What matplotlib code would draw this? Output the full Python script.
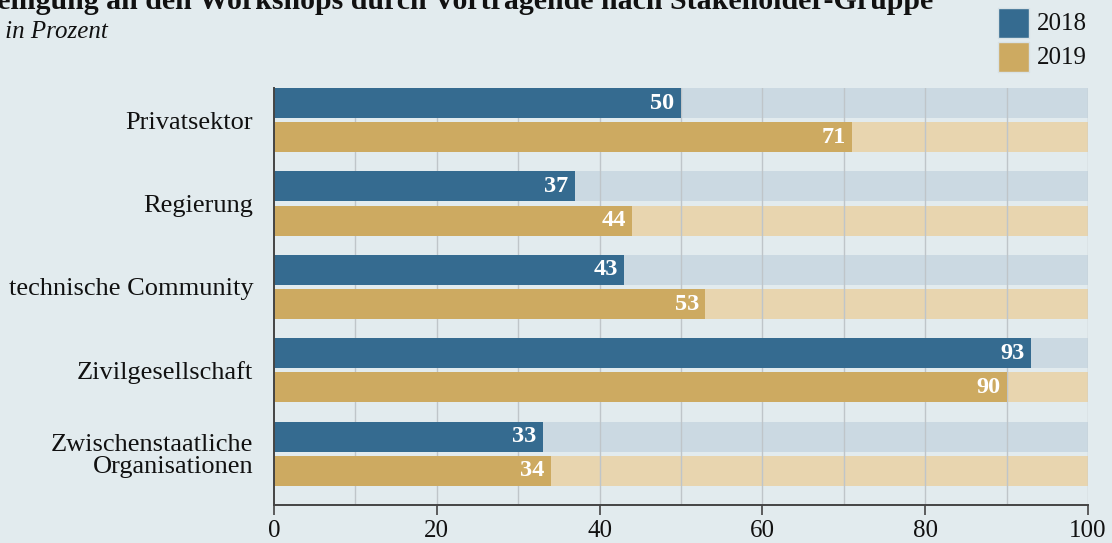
import matplotlib.pyplot as plt
import numpy as np
from matplotlib.patches import Rectangle

categories = ["Privatsektor", "Regierung", "technische Community",
              "Zivilgesellschaft", "Zwischenstaatliche\nOrganisationen"]
values_2018 = [50, 37, 43, 93, 33]
values_2019 = [71, 44, 53, 90, 34]
years = ["2018", "2019"]

title = "Beteiligung an den Workshops durch Vortragende nach Stakeholder-Gruppe"
subtitle = "Angaben in Prozent"

bg = "#e2ebee"
blue = "#356b90"
gold = "#cdaa61"
light_blue = "#cbd9e2"
light_gold = "#e8d5af"
ink = "#111111"

plt.rcParams['font.family'] = ['Liberation Serif', 'DejaVu Serif']

W, H = 1112, 543
fig = plt.figure(figsize=(W / 100, H / 100), dpi=100, facecolor=bg)
# axes top = top of the first bar, bottom = x axis line
ax = fig.add_axes([274 / W, 1 - 505 / H, (1088 - 274) / W, (505 - 88) / H])
ax.set_facecolor(bg)

y = np.arange(len(categories))
h = 0.36
off = 0.205

# background (100 %) bars
ax.barh(y - off, 100, height=h, color=light_blue, zorder=1)
ax.barh(y + off, 100, height=h, color=light_gold, zorder=1)

# grid lines between background and data bars
for gx in range(10, 101, 10):
    ax.axvline(gx, color="#bfc5c9", lw=1, zorder=2)

b1 = ax.barh(y - off, values_2018, height=h, color=blue, zorder=3)
b2 = ax.barh(y + off, values_2019, height=h, color=gold, zorder=3)

for bars, vals in ((b1, values_2018), (b2, values_2019)):
    for rect, v in zip(bars, vals):
        ax.text(v - 0.8, rect.get_y() + rect.get_height() / 2, str(v),
                ha="right", va="center", color="white", fontsize=17.5,
                fontweight="bold", zorder=4)

ax.set_xlim(0, 100)
ax.set_ylim(len(categories) - 1 + off + h / 2 + 0.229, -off - h / 2)
ax.set_yticks(y)
ax.set_yticklabels(categories, fontsize=19, linespacing=1.0, color=ink)
ax.tick_params(axis="y", length=0, pad=15)
ax.set_xticks(range(0, 101, 20))
ax.tick_params(axis="x", labelsize=18, length=7, width=1.2, color="#444444",
               pad=4, labelcolor=ink)

for s in ("top", "right"):
    ax.spines[s].set_visible(False)
for s in ("left", "bottom"):
    ax.spines[s].set_color("#444444")
    ax.spines[s].set_linewidth(1.4)
    ax.spines[s].set_zorder(5)

# title and subtitle (left part cropped like the reference)
fig.text(933 / W, 1 - 9 / H, title, ha="right", va="baseline",
         fontsize=21.5, fontweight="bold", color=ink)
fig.text(108 / W, 1 - 38 / H, subtitle, ha="right", va="baseline",
         fontsize=18, fontstyle="italic", color=ink)

# legend
for i, (lab, col) in enumerate(zip(years, [blue, gold])):
    top = 8 + i * 34
    fig.patches.append(Rectangle((998 / W, 1 - (top + 30) / H), 31 / W, 30 / H,
                                 transform=fig.transFigure, facecolor=col,
                                 edgecolor="#d8e2e6", lw=1))
    fig.text(1037 / W, 1 - (top + 16) / H, lab, ha="left", va="center",
             fontsize=18, color=ink)

fig.savefig("out.png", dpi=100, facecolor=bg)
